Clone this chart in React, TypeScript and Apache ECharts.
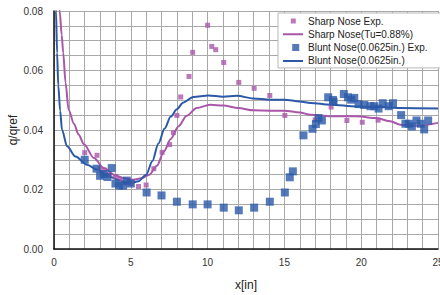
import React, { useEffect, useRef } from "react";
import * as echarts from "echarts";

const xTicks = [0, 5, 10, 15, 20, 25];
const yTicks = [0, 0.02, 0.04, 0.06, 0.08];

const sharpExp: [number, number][] = [
  [2.0, 0.0324], [2.8, 0.0315], [3.0, 0.027], [3.3, 0.0265], [3.6, 0.025],
  [4.0, 0.0244], [4.3, 0.0235], [4.7, 0.0222], [5.0, 0.022], [5.5, 0.021],
  [6.0, 0.0215], [6.5, 0.027], [7.04, 0.0325], [7.53, 0.0351], [7.77, 0.0391],
  [8.0, 0.0449], [8.25, 0.0511], [8.79, 0.058], [9.03, 0.0661], [10.0, 0.0752],
  [10.27, 0.0681], [10.53, 0.067], [11.05, 0.0627], [12.03, 0.056], [13.03, 0.054],
  [14.05, 0.0516], [15.03, 0.0449], [17.0, 0.0434], [18.04, 0.0477], [19.07, 0.0432],
  [20.07, 0.0426], [21.1, 0.0433],
];

const sharpCurve: [number, number][] = [
  [0.3, 0.088], [0.37, 0.08], [0.5, 0.072], [0.6, 0.066], [0.75, 0.056], [0.95, 0.0468],
  [1.3, 0.0421], [1.6, 0.0385], [1.95, 0.0352], [2.6, 0.0306], [3.24, 0.0272],
  [4.0, 0.0248], [4.5, 0.0238], [5.15, 0.0233], [5.7, 0.0238], [6.2, 0.025],
  [6.7, 0.028], [7.16, 0.0328], [7.6, 0.037], [8.1, 0.0412], [8.64, 0.0448],
  [9.29, 0.0474], [10.16, 0.0485], [11.02, 0.0482], [12.0, 0.0474], [12.98, 0.0466],
  [14.07, 0.0465], [15.0, 0.0465], [16.0, 0.0459], [16.7, 0.0451], [18.0, 0.0446],
  [19.7, 0.0446], [21.0, 0.044], [21.9, 0.0429], [22.55, 0.0418], [23.64, 0.0414],
  [25.0, 0.0424],
];

const bluntExp: [number, number][] = [
  [2.0, 0.03], [2.77, 0.027], [3.0, 0.0246], [3.24, 0.0252], [3.48, 0.0242],
  [3.76, 0.0272], [4.0, 0.022], [4.24, 0.0213], [4.5, 0.0213], [4.74, 0.023],
  [5.0, 0.022], [6.03, 0.019], [7.0, 0.018], [8.0, 0.0159], [9.03, 0.015],
  [10.0, 0.015], [11.05, 0.0139], [12.03, 0.013], [13.03, 0.0139], [14.05, 0.0159],
  [15.03, 0.019], [15.35, 0.0241], [15.55, 0.0261], [16.24, 0.0382], [16.83, 0.0404],
  [17.05, 0.042], [17.22, 0.044], [17.44, 0.0432], [17.85, 0.051], [18.16, 0.0501],
  [18.2, 0.0495], [18.87, 0.0521], [19.14, 0.051], [19.35, 0.0502], [19.55, 0.0508],
  [19.83, 0.0487], [20.2, 0.0484], [20.6, 0.048], [20.85, 0.048], [21.13, 0.0472],
  [21.4, 0.049], [21.79, 0.048], [22.07, 0.049], [22.6, 0.045], [22.88, 0.0421],
  [23.1, 0.0421], [23.3, 0.0412], [23.6, 0.0432], [23.87, 0.0421], [24.1, 0.0402],
  [24.36, 0.0432],
];

const bluntCurve: [number, number][] = [
  [0.08, 0.09], [0.13, 0.08], [0.2, 0.066], [0.28, 0.055], [0.4, 0.0465], [0.52, 0.0401],
  [0.85, 0.0345], [1.4, 0.0311], [2.15, 0.0283], [2.8, 0.0267], [3.6, 0.0244],
  [4.2, 0.0232], [4.7, 0.0225], [5.05, 0.0222], [5.5, 0.0228], [6.0, 0.025],
  [6.4, 0.0295], [6.8, 0.0355], [7.2, 0.0405], [7.6, 0.0445], [8.0, 0.047],
  [8.4, 0.0492], [9.07, 0.0511], [10.05, 0.0516], [11.0, 0.0512], [11.9, 0.0515],
  [12.98, 0.0506], [14.07, 0.0502], [15.0, 0.0502], [16.0, 0.0496], [16.7, 0.0491],
  [18.0, 0.0485], [19.7, 0.0479], [21.0, 0.0477], [22.55, 0.0474], [25.0, 0.0472],
];

const names = [
  "Sharp Nose Exp.",
  "Sharp Nose(Tu=0.88%)",
  "Blunt Nose(0.0625in.) Exp.",
  "Blunt Nose(0.0625in.)",
];

const PURPLE = "#a957a9";
const BLUE = "#2b59a8";
const FONT = "'Liberation Sans', Arial, sans-serif";

// tiny corner dots fix the icon's bounding box to 20x12
const CORNERS = "M0,0h0.01v0.01h-0.01z M19.99,11.99h0.01v0.01h-0.01z ";

export default function App() {
  const ref = useRef<HTMLDivElement>(null);
  useEffect(() => {
    if (!ref.current) return;
    const chart = echarts.init(ref.current, null, { renderer: "svg" });
    const isTick = (v: number, arr: number[]) => arr.some((t) => Math.abs(t - v) < 1e-9);
    chart.setOption({
      animation: false,
      backgroundColor: "#fff",
      textStyle: { fontFamily: FONT },
      grid: { left: 54, right: 2, top: 11, bottom: 46, containLabel: false, outerBoundsMode: "none" },
      legend: {
        orient: "vertical",
        left: 278,
        top: 13,
        padding: [2, 13, 1, 5],
        itemWidth: 20,
        itemHeight: 12,
        itemGap: 1.3,
        backgroundColor: "#fff",
        borderColor: "#b8b8b8",
        borderWidth: 1,
        borderRadius: 0,
        textStyle: { fontSize: 10, color: "#222", fontFamily: FONT },
        data: [
          { name: names[0], icon: "path://" + CORNERS + "M7.8,3.5h5v5h-5z" },
          { name: names[1], icon: "path://" + CORNERS + "M0,5h20v2h-20z" },
          { name: names[2], icon: "path://" + CORNERS + "M9.2,2.5h7v7h-7z" },
          { name: names[3], icon: "path://" + CORNERS + "M0,5h20v2h-20z" },
        ],
      },
      xAxis: {
        type: "value",
        min: 0,
        max: 25,
        interval: 1,
        name: "x[in]",
        nameLocation: "middle",
        nameGap: 30,
        nameMoveOverlap: false,
        nameTextStyle: { fontSize: 12, color: "#222", fontFamily: FONT },
        axisLine: { show: true, lineStyle: { color: "#111", width: 1.5 } },
        axisTick: { show: false },
        axisLabel: {
          fontSize: 10,
          color: "#333",
          margin: 8,
          fontFamily: FONT,
          formatter: (v: number) => (isTick(v, xTicks) ? String(v) : ""),
        },
        splitLine: { show: true, lineStyle: { color: "#a8a8a8", width: 1 } },
      },
      yAxis: {
        type: "value",
        min: 0,
        max: 0.08,
        interval: 0.005,
        name: "q/qref",
        nameLocation: "middle",
        nameGap: 35,
        nameMoveOverlap: false,
        nameTextStyle: { fontSize: 12, color: "#222", fontFamily: FONT },
        axisLine: { show: true, lineStyle: { color: "#111", width: 1.5 } },
        axisTick: { show: false },
        axisLabel: {
          fontSize: 10,
          color: "#333",
          margin: 11,
          fontFamily: FONT,
          formatter: (v: number) => (isTick(v, yTicks) ? v.toFixed(2) : ""),
        },
        splitLine: { show: true, lineStyle: { color: "#a8a8a8", width: 1 } },
      },
      series: [
        {
          name: names[0],
          type: "scatter",
          data: sharpExp,
          symbol: "rect",
          symbolSize: 5,
          itemStyle: { color: PURPLE },
          z: 3,
        },
        {
          name: names[1],
          type: "line",
          data: sharpCurve,
          symbol: "none",
          smooth: 0.3,
          smoothMonotone: "x",
          clip: true,
          lineStyle: { color: PURPLE, width: 2 },
          itemStyle: { color: PURPLE },
          z: 2,
        },
        {
          name: names[2],
          type: "scatter",
          data: bluntExp,
          symbol: "rect",
          symbolSize: 8,
          itemStyle: { color: BLUE },
          z: 4,
        },
        {
          name: names[3],
          type: "line",
          data: bluntCurve,
          symbol: "none",
          smooth: 0.3,
          smoothMonotone: "x",
          clip: true,
          lineStyle: { color: BLUE, width: 2 },
          itemStyle: { color: BLUE },
          z: 2,
        },
      ],
    });
    return () => chart.dispose();
  }, []);
  return (
    <div
      ref={ref}
      style={{ position: "absolute", left: 0, top: 0, width: 440, height: 295 }}
    />
  );
}
